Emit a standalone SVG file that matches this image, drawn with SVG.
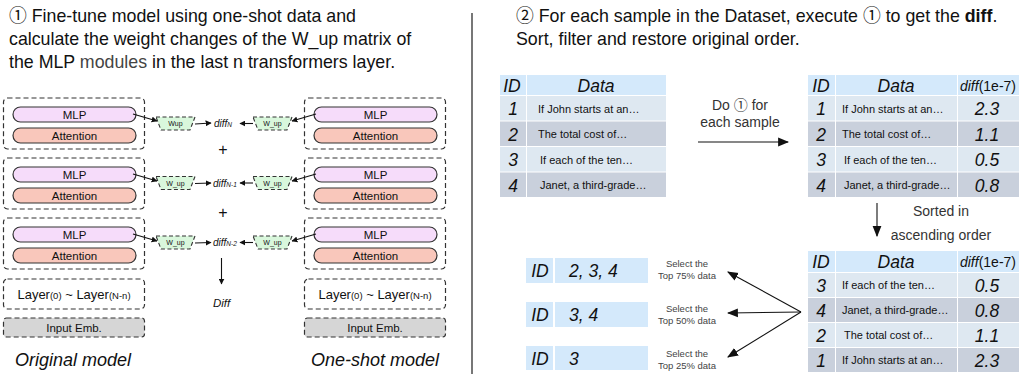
<svg xmlns="http://www.w3.org/2000/svg" width="1019" height="374" viewBox="0 0 1019 374">
<defs>
<style>
text{font-family:"Liberation Sans","Noto Sans CJK SC",sans-serif;fill:#111}
.title{font-size:17.8px}
.dbox{fill:none;stroke:#333;stroke-width:1.2;stroke-dasharray:5,3}
.mlp{fill:#f6dcfa;stroke:#333;stroke-width:1.2}
.att{fill:#f9c7bb;stroke:#333;stroke-width:1.2}
.pill{font-size:11.5px;text-anchor:middle}
.wup{fill:#d9f7dc;stroke:#333;stroke-width:1.1;stroke-dasharray:4,2.5}
.wt{font-size:7px;text-anchor:middle}
.dt{font-size:10px;font-style:italic}
.sub{font-size:6.5px;font-style:italic}
.emb{fill:#d6d6d6;stroke:#333;stroke-width:1.2;stroke-dasharray:5,3}
.lbl{font-size:18px;font-style:italic;text-anchor:middle}
.conn{fill:none;stroke:#111;stroke-width:1.1}
.hd{fill:#d4e9fb}
.lr{fill:#dee8f1}
.dr{fill:#c9d0dc}
.big{font-size:17.5px;font-style:italic;text-anchor:middle}
.val{font-size:17.5px;font-style:italic;text-anchor:start}
.row{font-size:11px}
.note{font-size:14px;fill:#333;text-anchor:middle}
.sel{font-size:9.5px;fill:#444;text-anchor:middle}
</style>
<marker id="ah" viewBox="0 0 10 10" refX="9" refY="5" markerWidth="6" markerHeight="6" orient="auto" markerUnits="userSpaceOnUse"><path d="M0,0 L10,5 L0,10 Z" fill="#111"/></marker>
<marker id="ahb" viewBox="0 0 10 10" refX="9" refY="5" markerWidth="11" markerHeight="11" orient="auto" markerUnits="userSpaceOnUse"><path d="M0,1 L10,5 L0,9 Z" fill="#111"/></marker>
</defs>
<rect width="1019" height="374" fill="#fff"/>

<g id="title-left">
<text class="title" x="9" y="22">① Fine-tune model using one-shot data and</text>
<text class="title" x="9" y="45">calculate the weight changes of the W_up matrix of</text>
<text class="title" x="9" y="68">the MLP <tspan fill="#444">modules</tspan> in the last n transformers layer.</text>
</g>
<g id="title-right">
<text class="title" x="516" y="22">② For each sample in the Dataset, execute ① to get the <tspan font-weight="bold">diff</tspan>.</text>
<text class="title" x="516" y="45">Sort, filter and restore original order.</text>
</g>
<line id="divider" x1="472" y1="13" x2="472" y2="374" stroke="#555" stroke-width="1.6"/>

<!-- Original model -->
<g id="orig-layer1">
<rect class="dbox" x="3.5" y="98" width="141" height="51" rx="4"/>
<rect class="mlp" x="13" y="107" width="123" height="15" rx="7.5"/><text class="pill" x="74.5" y="118.5">MLP</text>
<rect class="att" x="13" y="128" width="123" height="15" rx="7.5"/><text class="pill" x="74.5" y="139.5">Attention</text>
</g>
<g id="orig-layer2">
<rect class="dbox" x="3.5" y="158" width="141" height="51" rx="4"/>
<rect class="mlp" x="13" y="167" width="123" height="15" rx="7.5"/><text class="pill" x="74.5" y="178.5">MLP</text>
<rect class="att" x="13" y="188" width="123" height="15" rx="7.5"/><text class="pill" x="74.5" y="199.5">Attention</text>
</g>
<g id="orig-layer3">
<rect class="dbox" x="3.5" y="218" width="141" height="51" rx="4"/>
<rect class="mlp" x="13" y="227" width="123" height="15" rx="7.5"/><text class="pill" x="74.5" y="238.5">MLP</text>
<rect class="att" x="13" y="248" width="123" height="15" rx="7.5"/><text class="pill" x="74.5" y="259.5">Attention</text>
</g>
<g id="orig-layers">
<rect class="dbox" x="3.5" y="279" width="141" height="30" rx="4"/>
<text x="74" y="299" font-size="13" text-anchor="middle">Layer<tspan font-size="9.5">(0)</tspan> ~ Layer<tspan font-size="9.5">(N-n)</tspan></text>
</g>
<g id="orig-emb">
<rect class="emb" x="3.5" y="318" width="141" height="19" rx="3"/>
<text x="74" y="331.5" font-size="11.5" text-anchor="middle">Input Emb.</text>
</g>
<text id="orig-label" class="lbl" x="73" y="366">Original model</text>

<!-- One-shot model -->
<g id="shot-layer1">
<rect class="dbox" x="304.5" y="98" width="141" height="51" rx="4"/>
<rect class="mlp" x="314" y="107" width="123" height="15" rx="7.5"/><text class="pill" x="375.5" y="118.5">MLP</text>
<rect class="att" x="314" y="128" width="123" height="15" rx="7.5"/><text class="pill" x="375.5" y="139.5">Attention</text>
</g>
<g id="shot-layer2">
<rect class="dbox" x="304.5" y="158" width="141" height="51" rx="4"/>
<rect class="mlp" x="314" y="167" width="123" height="15" rx="7.5"/><text class="pill" x="375.5" y="178.5">MLP</text>
<rect class="att" x="314" y="188" width="123" height="15" rx="7.5"/><text class="pill" x="375.5" y="199.5">Attention</text>
</g>
<g id="shot-layer3">
<rect class="dbox" x="304.5" y="218" width="141" height="51" rx="4"/>
<rect class="mlp" x="314" y="227" width="123" height="15" rx="7.5"/><text class="pill" x="375.5" y="238.5">MLP</text>
<rect class="att" x="314" y="248" width="123" height="15" rx="7.5"/><text class="pill" x="375.5" y="259.5">Attention</text>
</g>
<g id="shot-layers">
<rect class="dbox" x="304.5" y="279" width="141" height="30" rx="4"/>
<text x="375" y="299" font-size="13" text-anchor="middle">Layer<tspan font-size="9.5">(0)</tspan> ~ Layer<tspan font-size="9.5">(N-n)</tspan></text>
</g>
<g id="shot-emb">
<rect class="emb" x="304.5" y="318" width="141" height="19" rx="3"/>
<text x="375" y="331.5" font-size="11.5" text-anchor="middle">Input Emb.</text>
</g>
<text id="shot-label" class="lbl" x="375" y="366">One-shot model</text>

<!-- W_up nodes -->
<g id="wup-l1"><path class="wup" d="M156,117 L195,117 L190,130 L161,130 Z"/><text class="wt" x="175.5" y="126">Wup</text></g>
<g id="wup-r1"><path class="wup" d="M253,117 L292,117 L287,130 L258,130 Z"/><text class="wt" x="272.5" y="126">W_up</text></g>
<g id="wup-l2"><path class="wup" d="M156,176.5 L195,176.5 L190,189.5 L161,189.5 Z"/><text class="wt" x="175.5" y="185.5">W_up</text></g>
<g id="wup-r2"><path class="wup" d="M253,176.5 L292,176.5 L287,189.5 L258,189.5 Z"/><text class="wt" x="272.5" y="185.5">W_up</text></g>
<g id="wup-l3"><path class="wup" d="M156,236 L195,236 L190,249 L161,249 Z"/><text class="wt" x="175.5" y="245">W_up</text></g>
<g id="wup-r3"><path class="wup" d="M253,236 L292,236 L287,249 L258,249 Z"/><text class="wt" x="272.5" y="245">W_up</text></g>

<g id="diffs">
<text class="dt" x="214" y="127">diff<tspan class="sub">N</tspan></text>
<text class="dt" x="213" y="186.5">diff<tspan class="sub">N-1</tspan></text>
<text class="dt" x="213" y="246">diff<tspan class="sub">N-2</tspan></text>
<text x="223" y="155" font-size="16" text-anchor="middle">+</text>
<text x="223" y="218" font-size="16" text-anchor="middle">+</text>
<text x="221.5" y="307" font-size="11.5" font-style="italic" text-anchor="middle">Diff</text>
</g>

<g id="connectors-left">
<path class="conn" d="M133,114 L157,121" marker-end="url(#ah)"/>
<path class="conn" d="M195,124 L211,123" marker-end="url(#ah)"/>
<path class="conn" d="M253,123.5 L240,123.5" marker-end="url(#ah)"/>
<path class="conn" d="M316,114 L292,121" marker-end="url(#ah)"/>
<path class="conn" d="M133,174 L157,181" marker-end="url(#ah)"/>
<path class="conn" d="M195,183.5 L211,183" marker-end="url(#ah)"/>
<path class="conn" d="M253,183 L240,183" marker-end="url(#ah)"/>
<path class="conn" d="M316,174 L292,181" marker-end="url(#ah)"/>
<path class="conn" d="M133,234 L157,241" marker-end="url(#ah)"/>
<path class="conn" d="M195,243 L211,242.5" marker-end="url(#ah)"/>
<path class="conn" d="M253,242.5 L240,242.5" marker-end="url(#ah)"/>
<path class="conn" d="M316,234 L292,241" marker-end="url(#ah)"/>
<path class="conn" d="M221.5,258 L221.5,284" marker-end="url(#ah)"/>
</g>

<!-- Table 1 -->
<g id="table-1">
<rect class="hd" x="500" y="75" width="26" height="20"/><rect class="hd" x="527" y="75" width="139" height="20"/>
<rect class="lr" x="500" y="96" width="26" height="24.5"/><rect class="lr" x="527" y="96" width="139" height="24.5"/>
<rect class="dr" x="500" y="121.5" width="26" height="24.5"/><rect class="dr" x="527" y="121.5" width="139" height="24.5"/>
<rect class="lr" x="500" y="147" width="26" height="24.5"/><rect class="lr" x="527" y="147" width="139" height="24.5"/>
<rect class="dr" x="500" y="172.5" width="26" height="24.5"/><rect class="dr" x="527" y="172.5" width="139" height="24.5"/>
<text class="big" x="512" y="92">ID</text><text class="big" x="596" y="92">Data</text>
<text class="big" x="513" y="115">1</text><text class="row" x="538" y="112.5">If John starts at an…</text>
<text class="big" x="513" y="140.5">2</text><text class="row" x="538" y="138">The total cost of…</text>
<text class="big" x="513" y="166">3</text><text class="row" x="540" y="163.5">If each of the ten…</text>
<text class="big" x="513" y="191.5">4</text><text class="row" x="540" y="189">Janet, a third-grade…</text>
</g>

<g id="do-label">
<text class="note" x="740" y="110">Do ① for</text>
<text class="note" x="740" y="127">each sample</text>
</g>

<!-- Table 2 -->
<g id="table-2">
<rect class="hd" x="808" y="75" width="27" height="20"/><rect class="hd" x="836" y="75" width="121" height="20"/><rect class="hd" x="958" y="75" width="61" height="20"/>
<rect class="lr" x="808" y="96" width="27" height="24.5"/><rect class="lr" x="836" y="96" width="121" height="24.5"/><rect class="lr" x="958" y="96" width="61" height="24.5"/>
<rect class="dr" x="808" y="121.5" width="27" height="24.5"/><rect class="dr" x="836" y="121.5" width="121" height="24.5"/><rect class="dr" x="958" y="121.5" width="61" height="24.5"/>
<rect class="lr" x="808" y="147" width="27" height="24.5"/><rect class="lr" x="836" y="147" width="121" height="24.5"/><rect class="lr" x="958" y="147" width="61" height="24.5"/>
<rect class="dr" x="808" y="172.5" width="27" height="24.5"/><rect class="dr" x="836" y="172.5" width="121" height="24.5"/><rect class="dr" x="958" y="172.5" width="61" height="24.5"/>
<text class="big" x="821" y="92">ID</text><text class="big" x="896" y="92">Data</text>
<text x="988" y="91" font-size="14" text-anchor="middle"><tspan font-style="italic">diff</tspan>(1e-7)</text>
<text class="big" x="821" y="115">1</text><text class="row" x="842" y="112.5">If John starts at an…</text><text class="big" x="987" y="115">2.3</text>
<text class="big" x="821" y="140.5">2</text><text class="row" x="842" y="138">The total cost of…</text><text class="big" x="987" y="140.5">1.1</text>
<text class="big" x="821" y="166">3</text><text class="row" x="844" y="163.5">If each of the ten…</text><text class="big" x="987" y="166">0.5</text>
<text class="big" x="821" y="191.5">4</text><text class="row" x="844" y="189">Janet, a third-grade…</text><text class="big" x="987" y="191.5">0.8</text>
</g>

<g id="sort-label">
<text class="note" x="941" y="216">Sorted in</text>
<text class="note" x="941" y="240">ascending order</text>
</g>

<!-- Table 3 -->
<g id="table-3">
<rect class="hd" x="808" y="251" width="27" height="21"/><rect class="hd" x="836" y="251" width="121" height="21"/><rect class="hd" x="958" y="251" width="61" height="21"/>
<rect class="lr" x="808" y="273" width="27" height="24"/><rect class="lr" x="836" y="273" width="121" height="24"/><rect class="lr" x="958" y="273" width="61" height="24"/>
<rect class="dr" x="808" y="298" width="27" height="24"/><rect class="dr" x="836" y="298" width="121" height="24"/><rect class="dr" x="958" y="298" width="61" height="24"/>
<rect class="lr" x="808" y="323" width="27" height="24"/><rect class="lr" x="836" y="323" width="121" height="24"/><rect class="lr" x="958" y="323" width="61" height="24"/>
<rect class="dr" x="808" y="348" width="27" height="24"/><rect class="dr" x="836" y="348" width="121" height="24"/><rect class="dr" x="958" y="348" width="61" height="24"/>
<text class="big" x="821" y="268">ID</text><text class="big" x="896" y="268">Data</text>
<text x="988" y="267" font-size="14" text-anchor="middle"><tspan font-style="italic">diff</tspan>(1e-7)</text>
<text class="big" x="821" y="291.5">3</text><text class="row" x="842" y="289">If each of the ten…</text><text class="big" x="987" y="291.5">0.5</text>
<text class="big" x="821" y="316.5">4</text><text class="row" x="842" y="314">Janet, a third-grade…</text><text class="big" x="987" y="316.5">0.8</text>
<text class="big" x="821" y="341.5">2</text><text class="row" x="844" y="339">The total cost of…</text><text class="big" x="987" y="341.5">1.1</text>
<text class="big" x="821" y="366.5">1</text><text class="row" x="842" y="364">If John starts at an…</text><text class="big" x="987" y="366.5">2.3</text>
</g>

<!-- Selected sets -->
<g id="select-75">
<rect class="hd" x="526" y="258" width="27" height="25"/><rect class="hd" x="555" y="258" width="93" height="25"/>
<text class="big" x="540" y="277">ID</text><text class="val" x="569" y="277">2, 3, 4</text>
<text class="sel" x="687" y="267">Select the</text><text class="sel" x="687" y="279">Top 75% data</text>
</g>
<g id="select-50">
<rect class="hd" x="526" y="302" width="27" height="25"/><rect class="hd" x="555" y="302" width="93" height="25"/>
<text class="big" x="540" y="321">ID</text><text class="val" x="569" y="321">3, 4</text>
<text class="sel" x="687" y="312">Select the</text><text class="sel" x="687" y="324">Top 50% data</text>
</g>
<g id="select-25">
<rect class="hd" x="526" y="346" width="27" height="24"/><rect class="hd" x="555" y="346" width="93" height="24"/>
<text class="big" x="540" y="364.5">ID</text><text class="val" x="569" y="364.5">3</text>
<text class="sel" x="687" y="357">Select the</text><text class="sel" x="687" y="369">Top 25% data</text>
</g>

<g id="connectors-right">
<path class="conn" d="M698,142 L788,142" marker-end="url(#ahb)"/>
<path class="conn" d="M877,203 L877,236" marker-end="url(#ahb)"/>
<path class="conn" d="M801,312 L728,272" marker-end="url(#ahb)"/>
<path class="conn" d="M801,312 L728,313" marker-end="url(#ahb)"/>
<path class="conn" d="M801,312 L728,357" marker-end="url(#ahb)"/>
</g>
</svg>
